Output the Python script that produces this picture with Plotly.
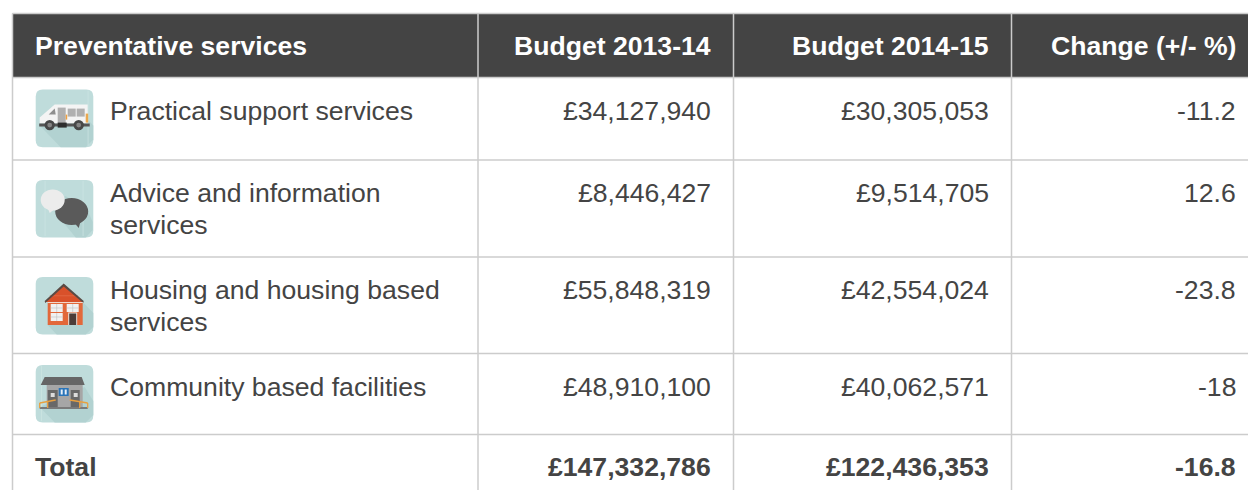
import plotly.graph_objects as go

# ---------- data ----------
header = ["Preventative services", "Budget 2013-14", "Budget 2014-15", "Change (+/- %)"]
services = [["Practical support services"],
            ["Advice and information", "services"],
            ["Housing and housing based", "services"],
            ["Community based facilities"]]
budget_2013 = ["£34,127,940", "£8,446,427", "£55,848,319", "£48,910,100"]
budget_2014 = ["£30,305,053", "£9,514,705", "£42,554,024", "£40,062,571"]
change = ["-11.2", "12.6", "-23.8", "-18"]
total = ["Total", "£147,332,786", "£122,436,353", "-16.8"]

# ---------- layout constants ----------
W, H = 1248, 490
COL_EDGES = [12.5, 478, 733.5, 1011.5]
ROW_EDGES = [13.5, 77.5, 160, 257, 353.5, 434.5, 500]
GRID = "#cccccc"
DARK = "#444444"
TEXT = "#444444"
FONT = "Liberation Sans, Arial, sans-serif"
FS = 26.6
LINE = 32
RIGHT = [710.5, 988.5, 1236]
TEXT_LEFT = 110
HEAD_LEFT = 35
ICON_X = 35.7
ICON_Y = [89.6, 180, 277, 365]
ICON = 57.6
TEAL = "#bfdcdb"
SHADE = "#b2d2d1"
STREAK = "#cde5e3"

shapes = []
annos = []

def rect(x0, y0, x1, y1, color):
    shapes.append(dict(type="rect", xref="x", yref="y", x0=x0, y0=y0, x1=x1, y1=y1,
                       fillcolor=color, line_width=0, layer="above"))

def poly(points, color):
    d = "M" + " L".join(f"{a},{b}" for a, b in points) + " Z"
    shapes.append(dict(type="path", xref="x", yref="y", path=d, fillcolor=color,
                       line_width=0, layer="above"))

def circ(cx, cy, r, color, rx=None):
    rx = r if rx is None else rx
    shapes.append(dict(type="circle", xref="x", yref="y", x0=cx-rx, x1=cx+rx, y0=cy-r, y1=cy+r,
                       fillcolor=color, line_width=0, layer="above"))

def line(x0, y0, x1, y1, color=GRID, w=1.5):
    shapes.append(dict(type="line", xref="x", yref="y", x0=x0, y0=y0, x1=x1, y1=y1,
                       line=dict(color=color, width=w), layer="above"))

def text(x, y, s, anchor="left", bold=False, color=TEXT):
    annos.append(dict(xref="x", yref="y", x=x, y=y, text=f"<b>{s}</b>" if bold else s,
                      xanchor=anchor, yanchor="middle", showarrow=False,
                      font=dict(family=FONT, size=FS, color=color),
                      borderpad=0, borderwidth=0))

def icon_base(ox, oy):
    r, s = 7, ICON
    d = (f"M{ox+r},{oy} L{ox+s-r},{oy} Q{ox+s},{oy} {ox+s},{oy+r} L{ox+s},{oy+s-r} "
         f"Q{ox+s},{oy+s} {ox+s-r},{oy+s} L{ox+r},{oy+s} Q{ox},{oy+s} {ox},{oy+s-r} "
         f"L{ox},{oy+r} Q{ox},{oy} {ox+r},{oy} Z")
    shapes.append(dict(type="path", xref="x", yref="y", path=d, fillcolor=TEAL,
                       line_width=0, layer="above"))

def icon_van(ox, oy):
    icon_base(ox, oy)
    poly([(ox+4, oy+36), (ox+25, oy+57.6), (ox+50, oy+57.6), (ox+57.6, oy+50), (ox+57.6, oy+36), (ox+52, oy+30)], SHADE)
    rect(ox+52, oy+1, ox+52.7, oy+56, STREAK)
    poly([(ox+4, oy+34), (ox+4, oy+28), (ox+19, oy+15), (ox+52, oy+15), (ox+52, oy+34)], "#f4f4f4")
    poly([(ox+13, oy+25), (ox+19, oy+19), (ox+20, oy+25)], "#8f8f8f")
    rect(ox+22, oy+18, ox+30, oy+35, "#b0b0b0")
    rect(ox+32, oy+19, ox+40, oy+27, "#b0b0b0")
    rect(ox+41, oy+19, ox+49, oy+27, "#b0b0b0")
    rect(ox+30, oy+25, ox+31.5, oy+30, "#f0a040")
    rect(ox+50, oy+24, ox+52.5, oy+33, "#eaa850")
    rect(ox+3.5, oy+34, ox+54, oy+37, "#555555")
    rect(ox+22, oy+33, ox+31, oy+38, "#2e2e2e")
    circ(ox+14, oy+35.5, 5.2, "#474747")
    circ(ox+14, oy+35.5, 2.4, "#858585")
    circ(ox+43, oy+35.5, 5.2, "#474747")
    circ(ox+43, oy+35.5, 2.4, "#858585")

def icon_chat(ox, oy):
    icon_base(ox, oy)
    poly([(ox+14, oy+26), (ox+30, oy+16), (ox+53, oy+33), (ox+57, oy+42), (ox+57, oy+50), (ox+50, oy+57.6), (ox+40, oy+57.6)], SHADE)
    rect(ox+9, oy+1, ox+9.7, oy+56, STREAK)
    rect(ox+47, oy+1, ox+47.7, oy+56, STREAK)
    circ(ox+36, oy+31.5, 13.5, "#5a5a5a", rx=16.5)
    poly([(ox+38, oy+42), (ox+43, oy+48), (ox+45, oy+41)], "#5a5a5a")
    circ(ox+17, oy+20, 10.5, "#ececec", rx=12)
    poly([(ox+12, oy+28), (ox+14, oy+33), (ox+19, oy+29)], "#ececec")

def icon_house(ox, oy):
    icon_base(ox, oy)
    poly([(ox+12, oy+48), (ox+21, oy+57.6), (ox+50, oy+57.6), (ox+57.6, oy+50), (ox+57.6, oy+36), (ox+47, oy+25)], SHADE)
    poly([(ox+9.5, oy+25), (ox+28, oy+8.5), (ox+47.5, oy+25)], "#d9512a")
    rect(ox+14, oy+18.5, ox+42, oy+19.2, "#e4704a")
    poly([(ox+9.5, oy+26), (ox+28, oy+9.5), (ox+47.5, oy+26), (ox+48, oy+24), (ox+28, oy+6.5), (ox+9, oy+24)], "#5a4a44")
    rect(ox+12, oy+25.5, ox+47, oy+48, "#e2683a")
    rect(ox+12, oy+25, ox+47, oy+26, "#f0d8cc")
    rect(ox+15, oy+27, ox+27, oy+35, "#f1f1f1")
    rect(ox+15, oy+36, ox+27, oy+44, "#f1f1f1")
    rect(ox+31, oy+27, ox+43, oy+35, "#f1f1f1")
    for a, b, c, d in [(21, 27, 21, 35), (15, 31, 27, 31), (21, 36, 21, 44), (15, 40, 27, 40),
                       (37, 27, 37, 35), (31, 31, 43, 31)]:
        line(ox+a, oy+b, ox+c, oy+d, "#c4c4c4", 0.7)
    rect(ox+32.5, oy+35.5, ox+41.5, oy+48, "#e8e2dc")
    rect(ox+33.5, oy+36.5, ox+40.5, oy+48, "#4c3c38")

def icon_hall(ox, oy):
    icon_base(ox, oy)
    poly([(ox+4, oy+42), (ox+19, oy+57.6), (ox+50, oy+57.6), (ox+57.6, oy+50), (ox+57.6, oy+36), (ox+49, oy+22)], SHADE)
    rect(ox+5.5, oy+1, ox+6.2, oy+56, STREAK)
    poly([(ox+5, oy+20), (ox+9, oy+12), (ox+46, oy+12), (ox+49, oy+20)], "#666666")
    rect(ox+11, oy+20, ox+47, oy+42, "#a6a6a6")
    rect(ox+12, oy+25, ox+22, oy+42, "#686868")
    rect(ox+35, oy+25, ox+44, oy+42, "#686868")
    rect(ox+15, oy+28, ox+19, oy+32, "#dcdcdc")
    rect(ox+38, oy+28, ox+42, oy+32, "#dcdcdc")
    rect(ox+23, oy+23, ox+33, oy+31, "#2a74b8")
    rect(ox+25, oy+24.5, ox+27, oy+29.5, "#e8f0f8")
    rect(ox+29, oy+24.5, ox+31, oy+29.5, "#e8f0f8")
    rect(ox+4, oy+42, ox+52, oy+44, "#7a7a7a")
    for a, b, c, d in [(4, 38, 20, 35), (34, 35, 52, 38), (4, 38, 4, 43), (52, 38, 52, 43),
                       (12, 36.5, 12, 43), (44, 36.5, 44, 43)]:
        line(ox+a, oy+b, ox+c, oy+d, "#e8a040", 1.3)

rect(COL_EDGES[0], ROW_EDGES[0], W, ROW_EDGES[1], DARK)

for y in ROW_EDGES[:-1]:
    line(COL_EDGES[0], y, W, y)
for x in COL_EDGES:
    line(x, ROW_EDGES[0], x, H)

HEAD_Y = (ROW_EDGES[0] + ROW_EDGES[1]) / 2 + 0.5
text(HEAD_LEFT, HEAD_Y, header[0], bold=True, color="#ffffff")
for x, s in zip(RIGHT, header[1:]):
    text(x, HEAD_Y, s, anchor="right", bold=True, color="#ffffff")

for i, lines in enumerate(services):
    first = ROW_EDGES[i + 1] + 33
    for k, s in enumerate(lines):
        text(TEXT_LEFT, first + k * LINE, s)
    text(RIGHT[0], first, budget_2013[i], anchor="right")
    text(RIGHT[1], first, budget_2014[i], anchor="right")
    text(RIGHT[2], first, change[i], anchor="right")

for fn, oy in zip([icon_van, icon_chat, icon_house, icon_hall], ICON_Y):
    fn(ICON_X, oy)

TOTAL_Y = ROW_EDGES[5] + 32.5
text(HEAD_LEFT, TOTAL_Y, total[0], bold=True)
for x, s in zip(RIGHT, total[1:]):
    text(x, TOTAL_Y, s, anchor="right", bold=True)

fig = go.Figure()
fig.update_layout(
    width=W, height=H, margin=dict(l=0, r=0, t=0, b=0),
    paper_bgcolor="#ffffff", plot_bgcolor="#ffffff", showlegend=False,
    xaxis=dict(range=[0, W], visible=False, fixedrange=True),
    yaxis=dict(range=[H, 0], visible=False, fixedrange=True),
    shapes=shapes, annotations=annos,
)
fig.write_html("out.html", config=dict(displayModeBar=False),
               post_script="document.body.style.margin='0';document.body.style.overflow='hidden';")
